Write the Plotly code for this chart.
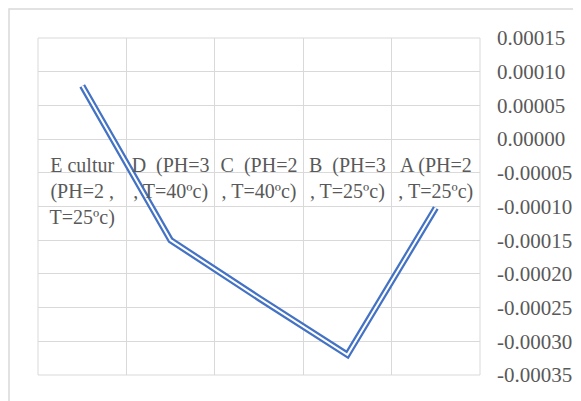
import plotly.graph_objects as go

categories = ["E cultur (PH=2 , T=25ºc)", "D  (PH=3 , T=40ºc)", "C  (PH=2 , T=40ºc)",
              "B  (PH=3 , T=25ºc)", "A (PH=2 , T=25ºc)"]
tick_labels = ["E cultur<br>(PH=2 ,<br>T=25ºc)", "D  (PH=3<br>, T=40ºc)", "C  (PH=2<br>, T=40ºc)",
               "B  (PH=3<br>, T=25ºc)", "A (PH=2<br>, T=25ºc)"]
values = [0.000079, -0.000150, -0.000236, -0.000320, -0.000102]

y_ticks = [0.00015, 0.00010, 0.00005, 0.0, -0.00005, -0.00010, -0.00015,
           -0.00020, -0.00025, -0.00030, -0.00035]
y_tick_labels = ["0.00015", "0.00010", "0.00005", "0.00000", "-0.00005", "-0.00010",
                 "-0.00015", "-0.00020", "-0.00025", "-0.00030", "-0.00035"]

FONT = "Liberation Serif"
GREY = "#595959"
GRID = "#d9d9d9"

fig = go.Figure()
fig.add_trace(go.Scatter(x=categories, y=values, mode="lines",
                         line=dict(color="#4472C4", width=6.5), hoverinfo="skip"))
fig.add_trace(go.Scatter(x=categories, y=values, mode="lines",
                         line=dict(color="white", width=2), hoverinfo="skip"))

# page body has an 8px margin, so compensate in figure coordinates
L, R, T, B = 30, 109, 30, 34
W, H = 581, 401
pw, ph = W - L - R, H - T - B

fig.update_layout(
    width=W, height=H,
    margin=dict(l=L, r=R, t=T, b=B, autoexpand=False),
    paper_bgcolor="white", plot_bgcolor="white",
    showlegend=False,
    font=dict(family=FONT, size=20, color=GREY),
    xaxis=dict(type="category", categoryorder="array", categoryarray=categories,
               range=[-0.5, len(categories) - 0.5],
               tickvals=categories, ticktext=tick_labels, automargin=False,
               tickson="boundaries", showgrid=True, gridcolor=GRID, gridwidth=1,
               ticks="", showline=False, zeroline=False,
               anchor="free", position=(0 - (-0.00035)) / (0.00015 - (-0.00035)),
               ticklabelstandoff=12,
               tickfont=dict(family=FONT, size=20, color=GREY)),
    yaxis=dict(side="right", range=[-0.00035, 0.00015], automargin=False,
               tickvals=y_ticks, ticktext=y_tick_labels,
               showgrid=True, gridcolor=GRID, gridwidth=1, zeroline=False,
               showline=False, ticks="", ticklabelstandoff=16,
               tickfont=dict(family=FONT, size=21, color=GREY)),
    shapes=[
        dict(type="rect", xref="paper", yref="paper", x0=0, x1=1, y0=0, y1=1,
             line=dict(color=GRID, width=1), layer="below"),
        dict(type="rect", xref="paper", yref="paper",
             x0=(1 - L) / pw, x1=(W + 10 - L) / pw,
             y0=1 - (H + 10 - T) / ph, y1=1 + (T - 1) / ph,
             line=dict(color=GRID, width=1.5), layer="below"),
    ],
)

fig.write_html("out.html")
